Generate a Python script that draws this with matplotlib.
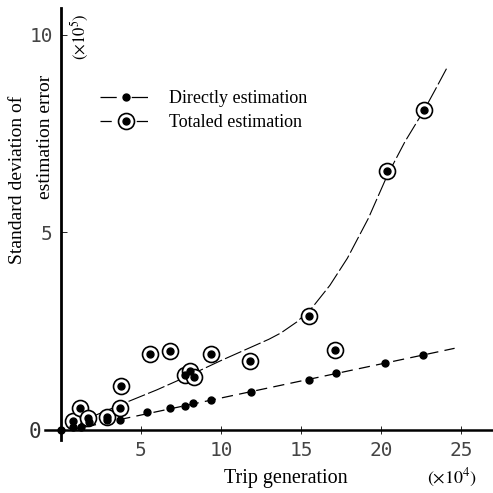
import matplotlib
matplotlib.use("Agg")
import matplotlib.pyplot as plt
from matplotlib.lines import Line2D
from matplotlib.legend_handler import HandlerTuple

plt.rcParams['font.family'] = ['Liberation Serif', 'DejaVu Serif']
plt.rcParams['mathtext.fontset'] = 'stix'

# directly estimation (dots)
direct_x = [0.0, 0.75, 1.25, 1.75, 2.9, 3.7, 5.4, 6.8, 7.75, 8.25, 9.4, 11.9, 15.5, 17.2, 20.25, 22.6]
direct_y = [0.0, 0.08, 0.08, 0.2, 0.25, 0.25, 0.46, 0.56, 0.61, 0.68, 0.76, 0.96, 1.27, 1.44, 1.70, 1.90]

# totaled estimation (circled dots)
total_x = [0.75, 1.2, 1.7, 2.9, 3.7, 3.75, 5.55, 6.8, 7.75, 8.05, 8.3, 9.4, 11.8, 15.5, 17.1, 20.4, 22.7]
total_y = [0.23, 0.56, 0.30, 0.33, 0.56, 1.11, 1.92, 2.0, 1.39, 1.49, 1.34, 1.92, 1.75, 2.89, 2.03, 6.56, 8.10]

# trend lines
direct_line_x = [1.5, 24.6]
direct_line_y = [0.08, 2.07]
total_curve_x = [0.6, 2, 4, 6, 8, 10, 12, 13, 13.75, 14.75, 15.7, 16.8, 17.9, 19.2, 20.4, 21.5, 22.7, 23.4, 24.1]
total_curve_y = [0.08, 0.35, 0.69, 1.02, 1.38, 1.76, 2.12, 2.3, 2.46, 2.74, 3.1, 3.66, 4.35, 5.35, 6.45, 7.3, 8.1, 8.62, 9.15]

xticks = [5, 10, 15, 20, 25]
yticks = [5, 10]

fig = plt.figure(figsize=(4.93, 4.93), dpi=100)
ax = fig.add_axes([45 / 493, 53 / 493, 448 / 493, 432 / 493])
ax.set_xlim(-1, 27)
ax.set_ylim(-0.25, 10.68)

for s in ['top', 'right']:
    ax.spines[s].set_visible(False)
ax.spines['left'].set_position(('data', 0))
ax.spines['bottom'].set_position(('data', 0))
ax.spines['left'].set_linewidth(2.0)
ax.spines['bottom'].set_linewidth(1.8)

# curves
ax.plot(direct_line_x, direct_line_y, color='black', lw=0.9, dashes=(9, 5))
ax.plot(total_curve_x, total_curve_y, color='black', lw=0.8, dashes=(16, 3))

# markers
ax.plot(total_x, total_y, 'o', ms=11.5, mfc='white', mec='black', mew=1.2, ls='none', zorder=3)
ax.plot(total_x, total_y, 'o', ms=5, color='black', ls='none', zorder=4)
ax.plot(direct_x, direct_y, 'o', ms=5, color='black', ls='none', zorder=4)

# ticks
ax.set_xticks(xticks)
ax.set_xticklabels([str(t) for t in xticks], family='DejaVu Sans Mono', fontsize=14, color='#444444')
ax.tick_params(axis='x', direction='inout', length=6, width=0.6, pad=5)
ax.set_yticks(yticks)
ax.set_yticklabels([str(t) for t in yticks], family='DejaVu Sans Mono', fontsize=14, color='#444444')
ax.tick_params(axis='y', direction='in', length=4, width=0.6, pad=6)

ax.text(-1.6, -0.05, '0', family='DejaVu Sans Mono', fontsize=15, color='#333333',
        ha='center', va='center', clip_on=False)

# axis titles
fig.text(286 / 493, 1 - 478 / 493, 'Trip generation', fontsize=14.5, ha='center', va='center')
fig.text(452 / 493, 1 - 478 / 493, r'$(\times 10^4)$', fontsize=13, ha='center', va='center')
fig.text(18 / 493, 1 - 180 / 493, 'Standard deviation of', fontsize=14, rotation=90,
         ha='center', va='center')
fig.text(45 / 493, 1 - 137 / 493, 'estimation error', fontsize=14, rotation=90,
         ha='center', va='center')
fig.text(80 / 493, 1 - 37 / 493, r'$(\times 10^5)$', fontsize=12, rotation=90,
         ha='center', va='center')

# legend: "— • —" and "– ⊙ –"
h1 = Line2D([], [], color='black', lw=0.9, dashes=(13, 12), marker='o', ms=5, mfc='black', mec='black')
h2a = Line2D([], [], color='black', lw=0.9, dashes=(9, 20), marker='o', ms=11.5, mfc='white', mec='black', mew=1.2)
h2b = Line2D([], [], ls='none', marker='o', ms=5, color='black')
fig.legend([h1, (h2a, h2b)], ['Directly estimation', 'Totaled estimation'],
           handler_map={tuple: HandlerTuple(ndivide=1, pad=0)},
           loc='upper left', bbox_to_anchor=(100 / 493, 1 - 90 / 493),
           frameon=False, fontsize=13, numpoints=1, handlelength=2.85,
           handletextpad=0.95, labelspacing=0.38, borderpad=0, borderaxespad=0)

fig.savefig('out.png', dpi=100)
